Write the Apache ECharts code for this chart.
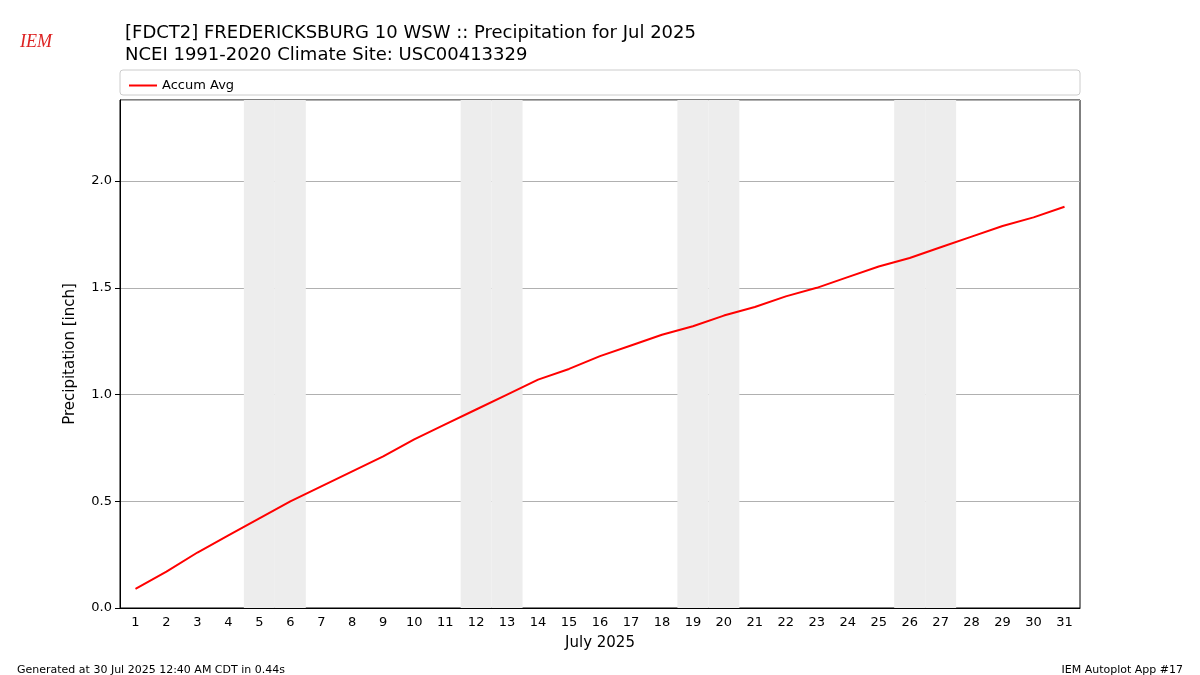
<!DOCTYPE html>
<html><head><meta charset="utf-8">
<script src="https://cdn.jsdelivr.net/npm/echarts@6/dist/echarts.min.js"></script>
<style>html,body{margin:0;padding:0;background:#fff}#c{width:1200px;height:675px}</style>
</head><body><div id="c"></div>
<script>
const days = Array.from({length:31},(_, i)=>String(i+1));
const accumAvg = [0.09,0.17,0.26,0.34,0.42,0.50,0.57,0.64,0.71,0.79,0.86,0.93,1.00,1.07,1.12,1.18,1.23,1.28,1.32,1.37,1.41,1.46,1.50,1.55,1.60,1.64,1.69,1.74,1.79,1.83,1.88];
const weekendDays = ['5','6','12','13','19','20','26','27'];
const yMax = 2.38;
const shade = days.map(d => weekendDays.includes(d) ? yMax : null);
const F = 'DejaVu Sans';
const chart = echarts.init(document.getElementById('c'));
chart.setOption({
  animation:false,
  textStyle:{fontFamily:F},
  title:[
    {text:'[FDCT2] FREDERICKSBURG 10 WSW :: Precipitation for Jul 2025\nNCEI 1991-2020 Climate Site: USC00413329',left:120,top:17,textStyle:{fontSize:18,fontWeight:'normal',color:'#000',lineHeight:22,fontFamily:F}},
    {text:'Generated at 30 Jul 2025 12:40 AM CDT in 0.44s',left:12,top:660,textStyle:{fontSize:11,fontWeight:'normal',color:'#000',fontFamily:F}},
    {text:'IEM Autoplot App #17',right:12,top:660,textStyle:{fontSize:11,fontWeight:'normal',color:'#000',fontFamily:F}}
  ],
  graphic:[
    {type:'rect',shape:{x:120,y:70,width:960,height:25,r:3},style:{fill:'#fff',stroke:'#ccc',lineWidth:1}},
    {type:'text',left:20,top:33,style:{text:'IEM',fill:'#d22',font:'italic 18px serif'}}
  ],
  legend:{left:124,top:74,data:['Accum Avg'],itemWidth:28,itemHeight:2,icon:'rect',textStyle:{fontSize:13,color:'#000'}},
  grid:{left:120,right:120,top:100,bottom:67,show:true,borderColor:'#000',borderWidth:1,containLabel:false},
  xAxis:{type:'category',data:days,boundaryGap:true,name:'July 2025',nameLocation:'middle',nameGap:28,nameTextStyle:{fontSize:15,color:'#000'},
    axisLine:{lineStyle:{color:'#000'}},axisTick:{alignWithLabel:true,lineStyle:{color:'#000'}},axisLabel:{color:'#000',fontSize:13,interval:0}},
  yAxis:{type:'value',min:0,max:yMax,interval:0.5,name:'Precipitation [inch]',nameLocation:'middle',nameGap:42,nameTextStyle:{fontSize:15,color:'#000'},
    axisLine:{show:true,lineStyle:{color:'#000'}},axisTick:{show:true,lineStyle:{color:'#000'}},
    axisLabel:{color:'#000',fontSize:13,showMaxLabel:false,formatter:v=>v.toFixed(1)},splitLine:{lineStyle:{color:'#b0b0b0'}}},
  series:[
    {type:'bar',data:shade,barWidth:'100%',itemStyle:{color:'#ededed'},silent:true,z:0,legendHoverLink:false},
    {name:'Accum Avg',type:'line',data:accumAvg,symbol:'none',lineStyle:{color:'#ff0000',width:2},itemStyle:{color:'#ff0000'},z:5}
  ]
});
</script></body></html>
